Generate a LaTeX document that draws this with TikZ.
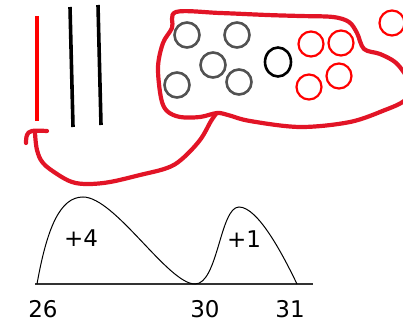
\documentclass[tikz,border=0pt]{standalone}
\usepackage{fontspec}
\setmainfont{DejaVu Sans}
\usetikzlibrary{shapes.geometric}
\begin{document}
\begin{tikzpicture}[x=1pt,y=-1pt,
  inkred/.style={draw={rgb,255:red,226;green,20;blue,38},line width=4.2pt,line cap=round,line join=round},
  pen/.style={draw=black,line width=3.6pt},
  graybead/.style={circle,draw=black!68,line width=2.6pt,minimum size=25pt,inner sep=0pt},
  blackbead/.style={ellipse,draw=black,line width=2.6pt,minimum width=26pt,minimum height=29pt,inner sep=0pt},
  redbead/.style={circle,draw=red,line width=2.2pt,minimum size=25pt,inner sep=0pt},
  numlabel/.style={font=\fontsize{23}{25}\selectfont,inner sep=0pt},
  peaklabel/.style={font=\fontsize{23}{25}\selectfont,inner sep=0pt}]
\useasboundingbox (0,0) rectangle (403,323);

% vertical strokes
\draw[draw=red,line width=4pt] (37,16) -- (37,121);
\draw[pen] (70,7) -- (73,127);
\draw[pen] (98,5) -- (101,125);

% outlined region
\draw[inkred] plot[smooth cycle,tension=0.55] coordinates {
  (176,12) (220,13) (267,15) (300,16) (333,17) (349,22) (357,33) (364,49)
  (380,54) (395,62) (405,74) (413,88) (404,101) (385,110) (350,122)
  (300,127) (250,121) (228,115) (217,113) (200,117) (180,117) (167,111)
  (161,98) (158,67) (163,43) (172,28)};

% hook and connector
\draw[inkred] plot[smooth,tension=0.6] coordinates {(26,143) (27,135) (32,131) (47,131)};
\coordinate (join) at (216,114);
\draw[inkred] plot[smooth,tension=0.6] coordinates {
  (35,133) (37,150) (43,163) (57,174) (72,182) (88,184) (110,182) (140,175)
  (167,168) (182,159) (200,140) (211,121) (join)};

% beads
\node[graybead] (g1) at (187,35) {};
\node[graybead] (g2) at (237,35) {};
\node[graybead] (g3) at (213,65) {};
\node[graybead] (g4) at (239,82) {};
\node[graybead] (g5) at (177,85) {};
\node[blackbead] (b1) at (278,62) {};
\node[redbead] (r1) at (311,44) {};
\node[redbead] (r2) at (341,43) {};
\node[redbead] (r3) at (339,76) {};
\node[redbead] (r4) at (309,87) {};
\node[redbead] (r5) at (392,23) {};

% number line and humps
\coordinate (a) at (37,284);
\coordinate (b) at (195,284);
\coordinate (c) at (297,284);
\draw[black!80,line width=1.4pt] (35,284) -- (313,284);
\draw[line width=1pt] (a) .. controls (47,228) and (60,197) .. (83,197)
  .. controls (115,197) and (168,284) .. (b)
  .. controls (218,284) and (220,207) .. (239,207)
  .. controls (258,207) and (283,255) .. (c);

\node[peaklabel] (p4) at (81,238) {+4};
\node[peaklabel] (p1) at (244,239) {+1};
\node[numlabel] (n26) at (43,309) {26};
\node[numlabel] (n30) at (205,309) {30};
\node[numlabel] (n31) at (290,309) {31};
\end{tikzpicture}
\end{document}
